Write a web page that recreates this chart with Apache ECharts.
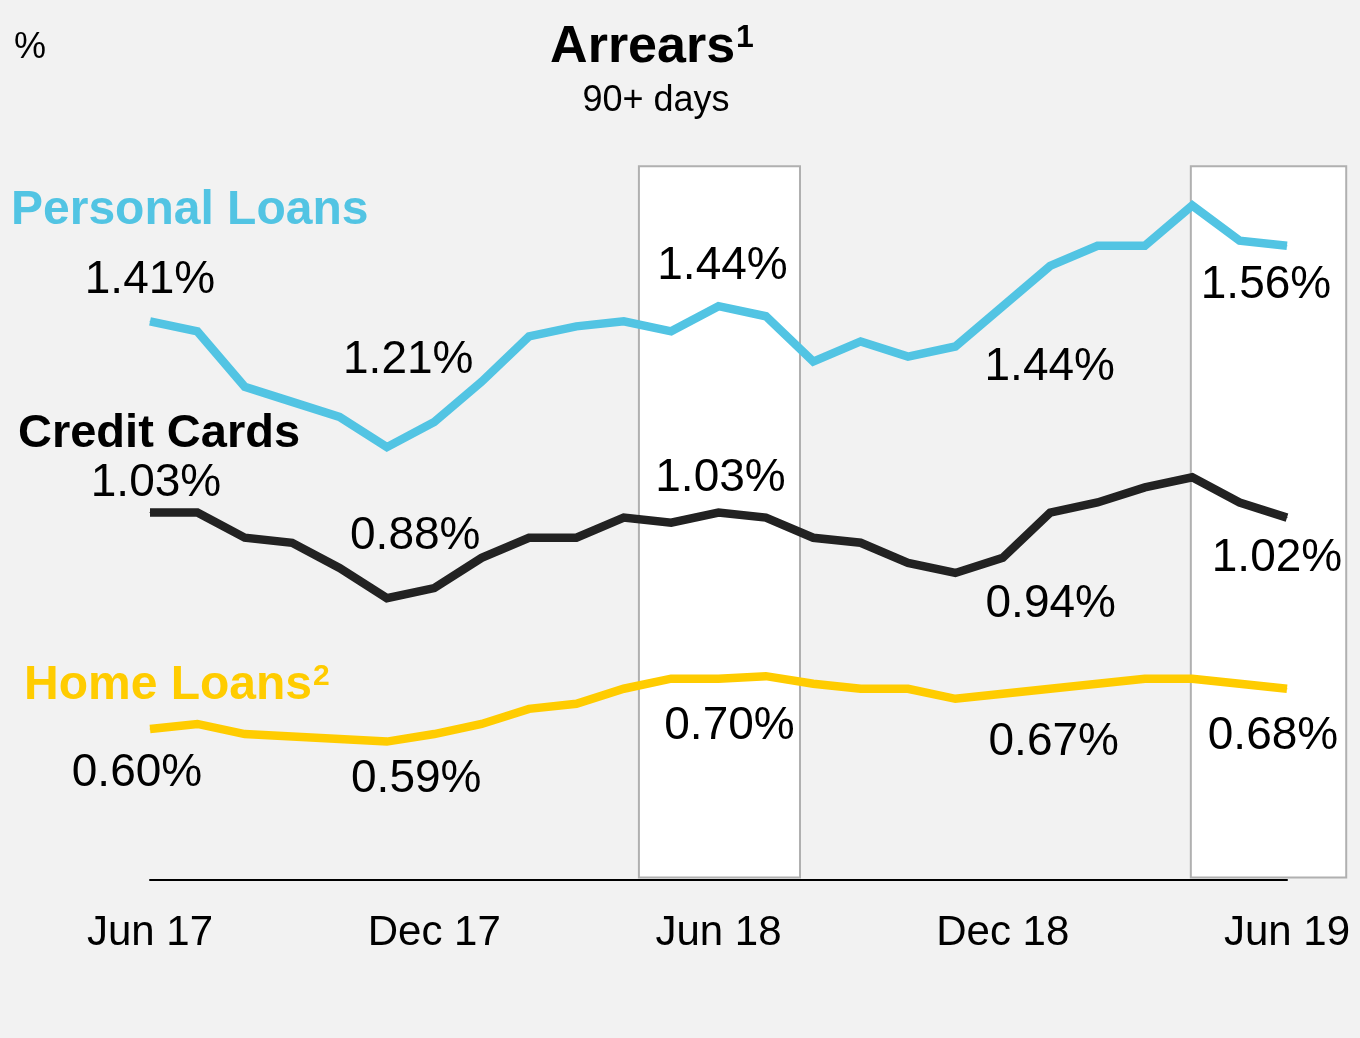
<!DOCTYPE html>
<html>
<head>
<meta charset="utf-8">
<style>
  html, body { margin: 0; padding: 0; background: #f2f2f2; }
  #chart { width: 1360px; height: 1038px; }
</style>
<script src="https://cdn.jsdelivr.net/npm/echarts@6/dist/echarts.min.js"></script>
</head>
<body>
<div id="chart"></div>
<script>
// monthly points, Jun 17 .. Jun 19
const months = [
  "Jun 17", "Jul 17", "Aug 17", "Sep 17", "Oct 17", "Nov 17", "Dec 17",
  "Jan 18", "Feb 18", "Mar 18", "Apr 18", "May 18", "Jun 18",
  "Jul 18", "Aug 18", "Sep 18", "Oct 18", "Nov 18", "Dec 18",
  "Jan 19", "Feb 19", "Mar 19", "Apr 19", "May 19", "Jun 19",
];
const personalLoans = [
  1.41, 1.39, 1.28, 1.25, 1.22, 1.16, 1.21,
  1.29, 1.38, 1.40, 1.41, 1.39, 1.44,
  1.42, 1.33, 1.37, 1.34, 1.36, 1.44,
  1.52, 1.56, 1.56, 1.64, 1.57, 1.56,
];
const creditCards = [
  1.03, 1.03, 0.98, 0.97, 0.92, 0.86, 0.88,
  0.94, 0.98, 0.98, 1.02, 1.01, 1.03,
  1.02, 0.98, 0.97, 0.93, 0.91, 0.94,
  1.03, 1.05, 1.08, 1.10, 1.05, 1.02,
];
const homeLoans = [
  0.60, 0.61, 0.59, 0.585, 0.58, 0.575, 0.59,
  0.61, 0.64, 0.65, 0.68, 0.70, 0.70,
  0.705, 0.69, 0.68, 0.68, 0.66, 0.67,
  0.68, 0.69, 0.70, 0.70, 0.69, 0.68,
];
// points that carry a value label (Jun / Dec)
const labelIndex = [0, 6, 12, 18, 24];
// highlighted periods, in month units from Jun 17
const highlightSpans = [
  [10.32, 13.72],
  [21.97, 25.25],
];

const FONT = '"Liberation Sans", Arial, sans-serif';

// label offsets from the point, in px
const plOffsets = [[0, -41], [-26, -62], [4, -40], [47, 61], [-21, 40]];
const ccOffsets = [[6, -29], [-19, -52], [2, -34], [48, 46], [-10, 41]];
const hlOffsets = [[-13, 44], [-18, 45], [11, 48], [51, 49], [-14, 48]];

function withLabels(values, offsets) {
  return values.map(function (v, i) {
    const k = labelIndex.indexOf(i);
    if (k < 0) return v;
    return {
      value: v,
      label: {
        show: true,
        position: "inside",
        offset: offsets[k],
        formatter: v.toFixed(2) + "%",
        fontSize: 46,
        fontFamily: FONT,
        color: "#000",
      },
    };
  });
}

function lineSeries(name, values, offsets, color) {
  return {
    name: name,
    type: "line",
    xAxisIndex: 0,
    data: withLabels(values, offsets),
    symbol: "circle",
    symbolSize: 1,
    showAllSymbol: true,
    itemStyle: { color: color },
    lineStyle: { color: color, width: 8.5, join: "miter" },
    emphasis: { disabled: true },
    z: 3,
  };
}

// text with an optional superscript note
function label(text, sup, x, y, size, weight, color, align) {
  return {
    type: "text", x: x, y: y,
    style: {
      text: sup ? "{m|" + text + "}{s|" + sup + "}" : text,
      fontSize: size, fontWeight: weight, fontFamily: FONT, fill: color,
      textAlign: align, align: align,
      textVerticalAlign: "middle", verticalAlign: "middle",
      rich: {
        m: { fontSize: size, fontWeight: weight, fontFamily: FONT, fill: color, color: color },
        s: {
          fontSize: Math.round(size * 0.62), fontWeight: weight, fontFamily: FONT,
          fill: color, color: color, verticalAlign: "top", padding: [0, 0, Math.round(size * 0.38), 1],
        },
      },
    },
  };
}

var chart = echarts.init(document.getElementById("chart"));
chart.setOption({
  backgroundColor: "#f2f2f2",
  animation: false,
  grid: { left: 150, right: 73, top: 125, bottom: 158 },
  xAxis: [
    {
      type: "category",
      data: months,
      boundaryGap: false,
      axisLine: { lineStyle: { color: "#000", width: 2 } },
      axisTick: { show: false },
      axisLabel: {
        interval: 5,
        margin: 32,
        fontSize: 42,
        fontFamily: FONT,
        color: "#000",
      },
    },
    { type: "value", min: 0, max: 24, show: false },
  ],
  yAxis: {
    type: "value",
    min: 0.3,
    max: 1.8,
    show: false,
    splitLine: { show: false },
  },
  series: [
    {
      type: "custom",
      xAxisIndex: 1,
      data: highlightSpans.map(function (s) { return [s[0], s[1], 1.718, 0.305]; }),
      encode: { x: [0, 1], y: [2, 3] },
      silent: true,
      z: 1,
      renderItem: function (params, api) {
        const a = api.coord([api.value(0), api.value(2)]);
        const b = api.coord([api.value(1), api.value(3)]);
        return {
          type: "rect",
          shape: { x: a[0], y: a[1], width: b[0] - a[0], height: b[1] - a[1] },
          style: { fill: "#ffffff", stroke: "#b0b0b0", lineWidth: 2 },
        };
      },
    },
    lineSeries("Personal Loans", personalLoans, plOffsets, "#52c4e3"),
    lineSeries("Credit Cards", creditCards, ccOffsets, "#222222"),
    lineSeries("Home Loans", homeLoans, hlOffsets, "#ffcc00"),
  ],
  graphic: [
    label("%", null, 14, 48, 36, "normal", "#000", "left"),
    label("Arrears", "1", 652, 48, 52, "bold", "#000", "center"),
    label("90+ days", null, 656, 101, 36, "normal", "#000", "center"),
    label("Personal Loans", null, 11, 211, 48, "bold", "#52c4e3", "left"),
    label("Credit Cards", null, 18, 434, 47, "bold", "#000", "left"),
    label("Home Loans", "2", 24, 686, 48, "bold", "#ffcc00", "left"),
  ],
});
</script>
</body>
</html>
